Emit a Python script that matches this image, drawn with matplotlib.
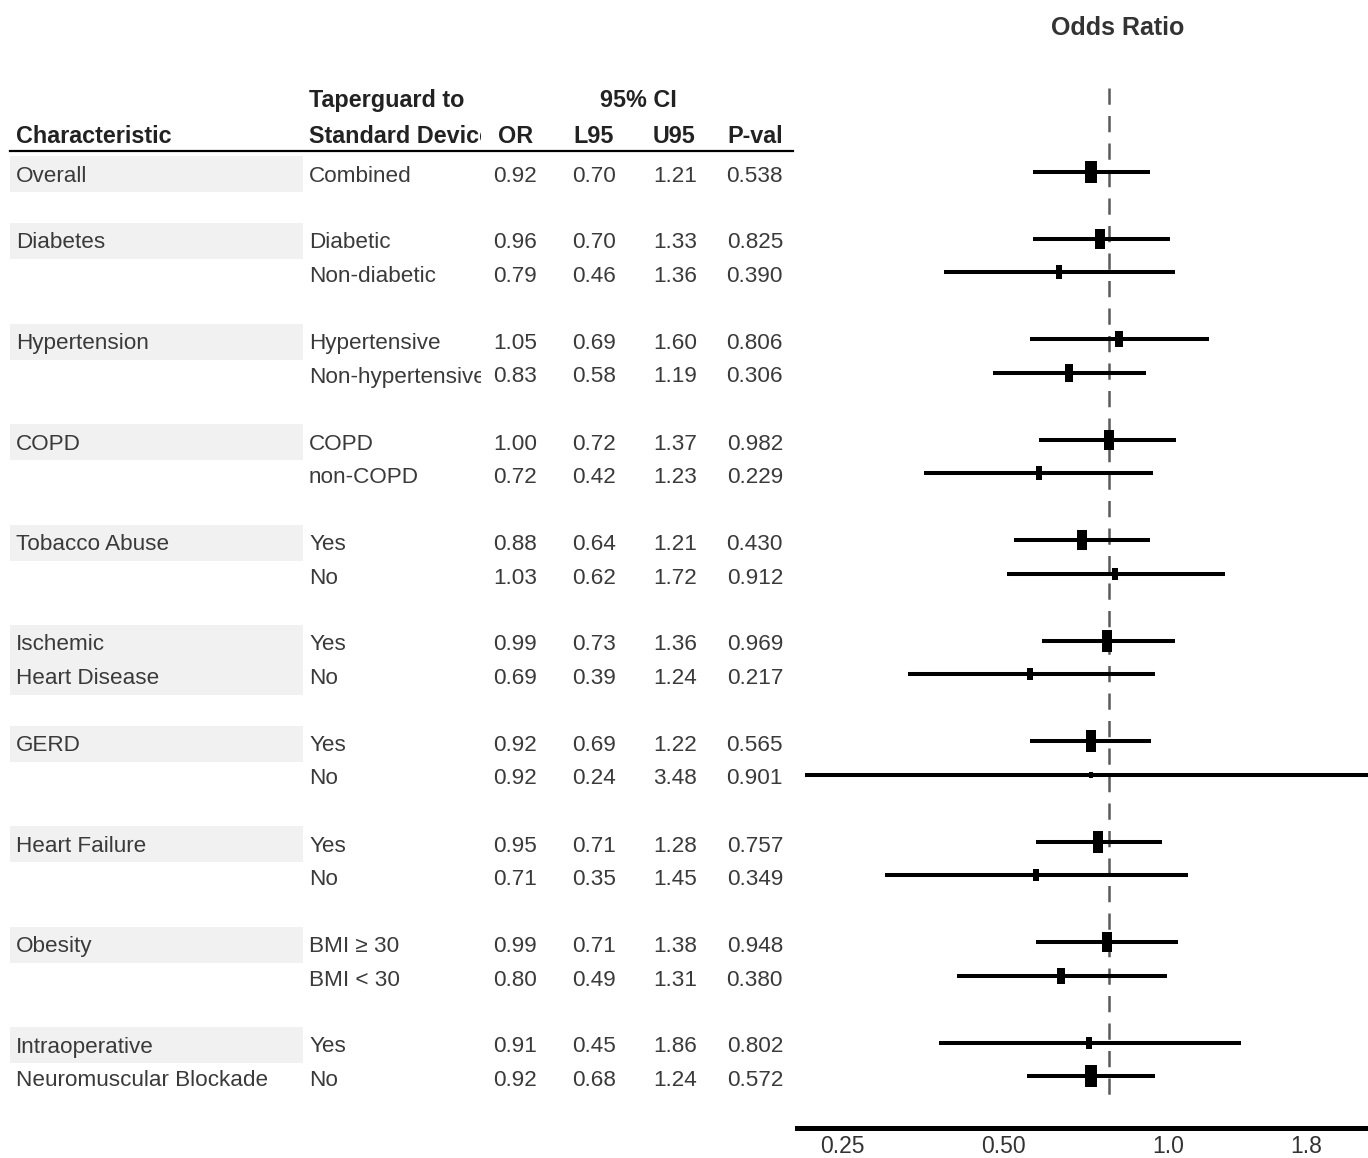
import matplotlib
matplotlib.use("Agg")
import matplotlib.pyplot as plt
from matplotlib.path import Path
from matplotlib.transforms import Bbox, TransformedBbox

plt.rcParams["font.family"] = ["Liberation Sans", "DejaVu Sans"]

# ---- data ----
characteristic = [
    "Overall",
    "Diabetes", "",
    "Hypertension", "",
    "COPD", "",
    "Tobacco Abuse", "",
    "Ischemic", "Heart Disease",
    "GERD", "",
    "Heart Failure", "",
    "Obesity", "",
    "Intraoperative", "Neuromuscular Blockade",
]
subgroup = [
    "Combined",
    "Diabetic", "Non-diabetic",
    "Hypertensive", "Non-hypertensive",
    "COPD", "non-COPD",
    "Yes", "No",
    "Yes", "No",
    "Yes", "No",
    "Yes", "No",
    "BMI \u2265 30", "BMI < 30",
    "Yes", "No",
]
odds = [0.92, 0.96, 0.79, 1.05, 0.83, 1.00, 0.72, 0.88, 1.03, 0.99,
        0.69, 0.92, 0.92, 0.95, 0.71, 0.99, 0.80, 0.91, 0.92]
l95 = [0.70, 0.70, 0.46, 0.69, 0.58, 0.72, 0.42, 0.64, 0.62, 0.73,
       0.39, 0.69, 0.24, 0.71, 0.35, 0.71, 0.49, 0.45, 0.68]
u95 = [1.21, 1.33, 1.36, 1.60, 1.19, 1.37, 1.23, 1.21, 1.72, 1.36,
       1.24, 1.22, 3.48, 1.28, 1.45, 1.38, 1.31, 1.86, 1.24]
pval = ["0.538", "0.825", "0.390", "0.806", "0.306", "0.982", "0.229",
        "0.430", "0.912", "0.969", "0.217", "0.565", "0.901", "0.757",
        "0.349", "0.948", "0.380", "0.802", "0.572"]
# relative box weight (box size) per row
weight = [1.00, 0.86, 0.59, 0.68, 0.77, 0.91, 0.59, 0.86, 0.55, 0.95,
          0.55, 0.95, 0.27, 0.95, 0.50, 0.86, 0.68, 0.50, 1.00]

tick_pos = [0.2855, 0.608, 1.319, 2.52]
tick_lab = ["0.25", "0.50", "1.0", "1.8"]

# ---- layout (pixel units) ----
W, H = 1368, 1158
Y0, SLOT = 172, 33.5
slots = [0] + [s for g in range(9) for s in (2 + 3 * g, 3 + 3 * g)]
rows_y = [Y0 + SLOT * s for s in slots]
band_rows = [0, 1, 3, 5, 7, 9, 10, 11, 13, 15, 17]
text_dy = 2

txt_col = "#3a3a3a"
hdr_col = "#222222"
fs = 16.2
fs_hdr = 16.8

fig = plt.figure(figsize=(W / 100, H / 100), dpi=100)
ax_t = fig.add_axes([0, 0, 1, 1])
ax_t.set_xlim(0, W)
ax_t.set_ylim(H, 0)
ax_t.axis("off")
ax_t.patch.set_alpha(0)

# gray bands behind characteristic column
for i in band_rows:
    ax_t.add_patch(plt.Rectangle((10, rows_y[i] + text_dy - 18), 293, 36,
                                 color="#f1f1f1", lw=0, zorder=0))

# the subgroup column is cut off at its right edge
clip = TransformedBbox(Bbox.from_extents(300, 0, 481, H), ax_t.transData)

# header
hb = dict(fontsize=fs_hdr, fontweight="bold", color=hdr_col, va="baseline")
ax_t.text(16, 143, "Characteristic", ha="left", **hb)
ax_t.text(309, 107, "Taperguard to", ha="left", **hb)
t = ax_t.text(309, 143, "Standard Device", ha="left", clip_on=True, **hb)
t.set_clip_path(None)
t.set_clip_box(clip)
ax_t.text(638, 107, "95% CI", ha="center", **hb)
for x, lab in zip([533, 614, 695, 783], ["OR", "L95", "U95", "P-val"]):
    ax_t.text(x, 143, lab, ha="right", **hb)
ax_t.plot([10, 793], [151, 151], color="black", lw=1.6)

# body rows
tb = dict(fontsize=fs, color=txt_col, va="baseline")
for i, y in enumerate(rows_y):
    yb = y + text_dy + 7.5
    ax_t.text(16, yb, characteristic[i], ha="left", **tb)
    t = ax_t.text(309, yb, subgroup[i], ha="left", clip_on=True, **tb)
    t.set_clip_path(None)
    t.set_clip_box(clip)
    ax_t.text(537, yb, f"{odds[i]:.2f}", ha="right", **tb)
    ax_t.text(616, yb, f"{l95[i]:.2f}", ha="right", **tb)
    ax_t.text(697, yb, f"{u95[i]:.2f}", ha="right", **tb)
    ax_t.text(783, yb, pval[i], ha="right", **tb)

# ---- forest plot ----
top_px, bot_px, left_px = 88, 1128, 797
ax = fig.add_axes([left_px / W, 1 - bot_px / H, 1 - left_px / W,
                   (bot_px - top_px) / H])
ax.set_xscale("log")
ax.set_xlim(0.2311, 3.373)
ax.set_ylim(bot_px, top_px)
ax.patch.set_alpha(0)
for s in ["top", "left", "right"]:
    ax.spines[s].set_visible(False)
ax.spines["bottom"].set_linewidth(3.6)
ax.spines["bottom"].set_color("black")
ax.set_yticks([])
ax.xaxis.set_minor_locator(matplotlib.ticker.NullLocator())
ax.set_xticks(tick_pos, tick_lab)
ax.tick_params(axis="x", length=0, pad=5, labelsize=16.5, labelcolor="#333333")

ax.vlines(1.0, top_px, 1102, colors="#5a5a5a", lw=1.8,
          linestyles=(0, (6.5, 4.5)), zorder=1)

box = Path([(-0.5, -1), (0.5, -1), (0.5, 1), (-0.5, 1), (-0.5, -1)])
for i, y in enumerate(rows_y):
    ax.plot([l95[i], u95[i]], [y, y], color="black", lw=2.9,
            solid_capstyle="butt", zorder=2, clip_on=False)
    ax.plot(odds[i], y, marker=box, markersize=16.5 * weight[i],
            color="black", mec="black", mew=0, zorder=3)

fig.text(1118 / W, 1 - 28 / H, "Odds Ratio", ha="center", va="center",
         fontsize=18, fontweight="bold", color="#333333")

fig.savefig("out.png", dpi=100, facecolor="white")
